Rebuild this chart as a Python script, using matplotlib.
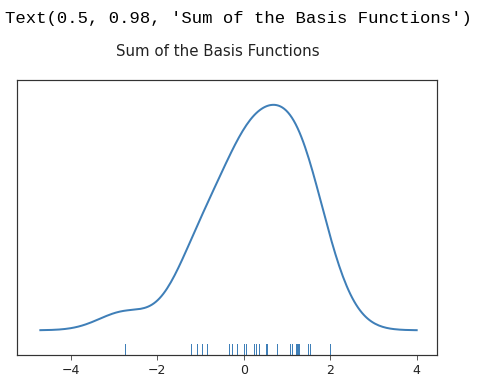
import numpy as np
import matplotlib
matplotlib.use("Agg")
from matplotlib import pyplot as plt

obs = [-2.75, -1.22, -1.08, -0.96, -0.85, -0.34, -0.26, -0.16, 0.01, 0.05,
       0.24, 0.28, 0.35, 0.52, 0.54, 0.76, 1.08, 1.12, 1.22, 1.24, 1.25, 1.28,
       1.48, 1.54, 2.0]
bandwidth = 0.6
x_ticks = [-4, -2, 0, 2, 4]
title = "Sum of the Basis Functions"
cell_out = "Text(0.5, 0.98, 'Sum of the Basis Functions')"

obs = np.array(obs)
support = np.linspace(-4.7, 4, 200)
kernels = [np.exp(-0.5 * ((support - xi) / bandwidth) ** 2) for xi in obs]
density = np.sum(kernels, axis=0)
density /= np.trapezoid(density, support)

W, H, dpi = 493, 383, 72
fig = plt.figure(figsize=(W / dpi, H / dpi), dpi=dpi)
ax = fig.add_axes([17 / W, 1 - 355 / H, (437 - 17) / W, (355 - 80) / H])

col = "#3f7fb8"
ax.plot(support, density, color=col, lw=2)
lo, hi = density.min(), density.max()
pad = (hi - lo) * 25 / 227
ax.set_ylim(lo - pad, hi + pad)
ax.set_xlim(-5.24, 4.47)
for xi in obs:
    ax.axvline(xi, ymin=0, ymax=0.04, color=col, lw=1)

ax.set_xticks(x_ticks)
ax.set_xticklabels([("\u2212%d" % -t) if t < 0 else str(t) for t in x_ticks])
ax.set_yticks([])
ax.tick_params(axis="x", labelsize=12.5, color="#333333", labelcolor="#222222", length=5)
for s in ax.spines.values():
    s.set_color("#333333")
    s.set_linewidth(1.2)

fig.text(218 / W, 1 - 52 / H, title, ha="center", va="center", fontsize=15, color="#222222")
fig.text(5 / W, 1 - 18 / H, cell_out, ha="left", va="center",
         family="Liberation Mono", fontsize=17.3, color="black")

fig.savefig("out.png", dpi=dpi)
